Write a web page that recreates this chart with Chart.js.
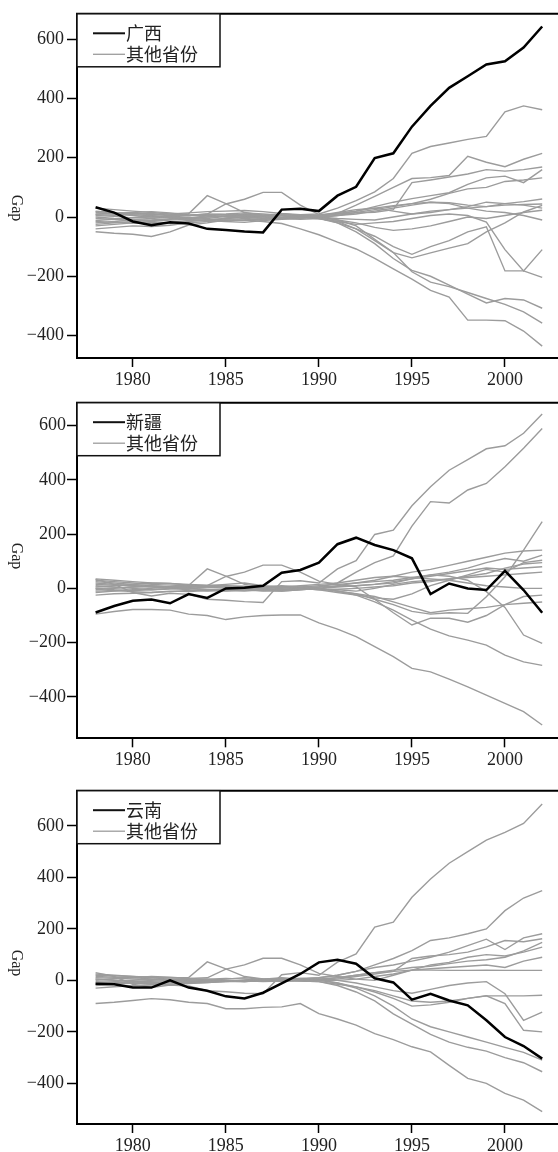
<!DOCTYPE html>
<html><head><meta charset="utf-8">
<script src="https://cdn.jsdelivr.net/npm/chart.js@4/dist/chart.umd.min.js"></script>
<style>
html,body{margin:0;padding:0;background:#fff;width:558px;height:1152px;overflow:hidden}
.p{position:absolute;left:0;width:558px}
</style></head><body>
<div class="p" style="top:0;height:400px"><canvas id="c1"></canvas></div>
<div class="p" style="top:385px;height:395px"><canvas id="c2"></canvas></div>
<div class="p" style="top:765px;height:387px"><canvas id="c3"></canvas></div>
<script>
const years = [1978,1979,1980,1981,1982,1983,1984,1985,1986,1987,1988,1989,1990,1991,1992,1993,1994,1995,1996,1997,1998,1999,2000,2001,2002];
const xTicks = [1980,1985,1990,1995,2000];
const yTicks = [-400,-200,0,200,400,600];
const otherLabel = '其他省份';

const guangxi = [33,15,-15,-28,-18,-22,-40,-44,-49,-52,25,28,20,72,102,199,215,305,375,436,475,515,526,572,643];
const xinjiang = [-89,-65,-46,-41,-55,-21,-35,0,2,10,58,68,95,163,187,160,141,111,-21,18,0,-6,65,-6,-90];
const yunnan = [-13,-15,-28,-28,0,-28,-40,-62,-70,-48,-12,25,70,80,65,8,-8,-75,-52,-78,-97,-155,-220,-255,-304];

const othersPanel1 = [
 [5,2,-3,0,6,4,8,10,14,10,6,8,10,30,55,85,130,215,238,250,262,272,355,375,362],
 [-12,-8,-2,4,0,-4,4,8,6,4,0,4,0,12,40,70,100,130,133,140,205,185,170,195,215],
 [18,14,8,4,0,-6,0,4,10,6,10,6,6,10,14,16,25,116,125,135,145,160,155,160,169],
 [-20,-15,-10,-12,-8,-2,-5,2,0,-4,-2,0,2,10,20,35,50,62,72,82,110,132,138,116,160],
 [8,6,10,12,5,11,72,45,15,6,4,0,-2,5,15,25,35,45,60,80,95,100,120,125,132],
 [30,25,20,15,10,5,10,44,60,83,83,40,8,12,20,30,38,45,50,48,40,35,45,52,61],
 [-5,-8,-12,-10,-6,-2,0,3,5,2,-4,-2,0,-5,-8,-10,0,10,20,25,30,35,40,42,44],
 [10,12,15,18,14,8,5,0,-5,-8,-6,-2,0,-10,-20,-35,-45,-40,-30,-15,0,-5,5,15,23],
 [-30,-25,-20,-22,-18,-12,-10,-5,0,5,8,4,0,5,10,20,30,40,50,45,30,20,15,5,-10],
 [0,-5,-8,-5,0,5,10,8,4,0,-4,-8,-5,-15,-25,-20,-15,-5,5,10,5,-17,-110,-182,-110],
 [15,10,5,0,-2,-5,-8,-10,-12,-8,-4,0,-2,-20,-40,-65,-100,-126,-100,-80,-50,-33,-182,-182,-204],
 [-25,-20,-15,-18,-22,-15,-10,-5,0,-3,-5,-3,-5,-20,-50,-90,-140,-180,-200,-230,-260,-290,-275,-280,-308],
 [-40,-35,-30,-32,-28,-20,-15,-12,-10,-6,-2,0,0,-10,-30,-75,-120,-185,-220,-235,-255,-275,-295,-320,-358],
 [-50,-55,-58,-66,-50,-27,-20,-10,-10,-15,-22,-40,-60,-85,-108,-140,-175,-210,-248,-270,-348,-348,-350,-385,-436],
 [20,15,12,8,10,14,18,20,22,18,12,8,-5,-15,-40,-80,-120,-138,-121,-105,-90,-50,-20,17,39],
 [-15,-18,-20,-15,-10,-8,-12,-15,-18,-12,-8,-5,5,15,25,30,20,10,15,25,35,50,45,40,30]
];
const othersPanel2 = [
 [33,15,-15,-28,-18,-22,-40,-44,-49,-52,25,28,20,72,102,199,215,305,375,436,475,515,526,572,643],
 [0,-5,-8,-5,-2,0,5,8,5,0,-5,0,5,20,60,95,120,230,320,315,363,387,449,517,590],
 [-95,-85,-78,-78,-80,-95,-100,-115,-105,-100,-98,-98,-127,-150,-178,-215,-252,-295,-308,-335,-363,-394,-424,-455,-504],
 [10,5,0,-5,0,5,8,5,0,-5,-10,-5,0,-10,-20,-40,-60,-85,-95,-90,-92,-31,43,141,246],
 [-5,0,5,8,5,0,-3,-5,0,5,10,5,10,15,20,25,30,40,50,45,30,-12,-70,-172,-203],
 [20,15,10,5,0,-5,-10,-8,-5,0,5,3,0,-10,-25,-50,-80,-117,-150,-175,-191,-209,-246,-271,-284],
 [-15,-10,-5,0,5,8,5,0,-5,-8,-10,-5,0,10,20,30,45,60,70,85,100,115,130,138,141],
 [30,25,20,15,12,10,8,5,0,-3,-5,0,5,8,10,15,20,35,50,60,75,95,110,100,123],
 [5,10,15,20,18,12,10,15,20,10,5,0,-5,-15,-25,-35,-40,-20,10,30,50,70,60,95,104],
 [-25,-20,-18,-15,-10,-12,-8,-5,-5,-10,-8,-3,0,5,10,15,25,35,45,55,65,75,70,75,80],
 [0,2,5,8,6,11,72,45,15,6,4,0,-2,-5,-10,0,15,25,30,35,40,45,50,55,60],
 [15,12,10,8,5,3,10,44,60,86,86,60,27,15,5,-40,-90,-135,-110,-110,-125,-100,-60,-30,-25],
 [-10,-8,-12,-15,-12,-8,-5,-8,-10,-5,0,5,0,-10,-20,-30,-50,-70,-90,-80,-75,-70,-60,-55,-50],
 [25,20,15,10,5,0,-5,-10,-5,0,5,10,15,20,30,40,45,40,35,30,20,10,5,0,0],
 [35,30,25,20,18,15,12,10,8,5,2,0,-5,-3,0,5,10,20,25,35,45,55,75,90,95]
];
const othersPanel3 = [
 [30,15,-15,-28,-18,-22,-40,-44,-50,-52,22,30,20,71,103,207,226,323,394,455,500,545,575,610,685],
 [5,0,-5,0,5,8,5,0,-5,0,5,8,10,20,35,60,85,116,155,165,181,200,271,320,349],
 [-90,-85,-78,-71,-75,-85,-90,-110,-110,-105,-103,-90,-129,-150,-174,-207,-230,-258,-278,-330,-381,-400,-439,-465,-510],
 [-10,-5,0,5,0,-5,0,5,10,5,0,5,10,20,35,50,60,75,90,110,135,160,120,165,181],
 [10,8,5,2,0,-3,-5,-2,0,5,10,5,0,5,15,25,35,85,95,100,110,130,155,150,162],
 [-20,-15,-10,-8,-5,0,5,8,5,0,-5,0,5,10,20,30,40,50,55,65,75,80,90,115,148],
 [20,18,15,12,10,11,72,45,15,6,4,0,-2,0,5,15,25,40,60,70,90,100,95,110,129],
 [0,5,10,15,12,8,10,44,60,86,86,60,27,15,5,0,20,40,45,50,55,60,50,75,90],
 [-15,-12,-10,-15,-18,-12,-8,-5,0,5,8,6,5,10,20,30,35,40,40,39,39,40,39,39,39],
 [5,0,-3,-5,-8,-6,-3,0,-2,-5,-3,0,2,-10,-25,-45,-70,-100,-95,-85,-70,-60,-60,-60,-58],
 [25,20,15,10,5,3,0,-3,-5,0,5,8,5,0,-10,-25,-40,-50,-35,-20,-10,-5,-52,-155,-123],
 [-30,-25,-20,-18,-15,-10,-8,-5,-5,-2,0,-3,-5,-15,-25,-40,-60,-80,-85,-80,-70,-60,-90,-194,-200],
 [-5,-8,-10,-12,-10,-8,-5,-3,0,3,5,2,0,-10,-30,-60,-100,-150,-180,-200,-220,-240,-260,-280,-310],
 [15,12,10,6,4,2,0,-2,-4,-2,0,-3,-5,-20,-45,-80,-130,-170,-210,-240,-260,-275,-300,-320,-355]
];

const panels = [
 {id:'c1', name:'广西', main:guangxi, others:othersPanel1, yMin:-476, yMax:686, padTop:7, xAxisH:42, gapY:208, tickPad:3},
 {id:'c2', name:'新疆', main:xinjiang, others:othersPanel2, yMin:-553, yMax:685, padTop:17.7, xAxisH:41.7, gapY:171, tickPad:1},
 {id:'c3', name:'云南', main:yunnan, others:othersPanel3, yMin:-558, yMax:737, padTop:25.7, xAxisH:28, gapY:198, tickPad:3}
];

function pts(arr){ return years.map((y,i)=>({x:y, y:arr[i]})); }

const serif = 'Liberation Serif, Times New Roman, serif';
const cjk = '"Noto Sans CJK SC", sans-serif';
const grayCol = '#9c9c9c';

panels.forEach(p => {
  const datasets = [{label:p.name, data:pts(p.main), borderColor:'#000', borderWidth:2.5, pointRadius:0, order:0, tension:0}];
  p.others.forEach(o => datasets.push({label:otherLabel, data:pts(o), borderColor:grayCol, borderWidth:1.4, pointRadius:0, order:1, tension:0}));
  const deco = {
    id:'deco',
    afterDraw(chart){
      const ctx = chart.ctx, a = chart.chartArea;
      ctx.save();
      ctx.strokeStyle = '#000'; ctx.lineWidth = 2;
      ctx.beginPath(); ctx.moveTo(a.left-1, a.top); ctx.lineTo(chart.width, a.top); ctx.stroke();
      const bx = a.left, by = a.top, bw = 143, bh = 53;
      ctx.fillStyle = '#fff'; ctx.fillRect(bx, by, bw, bh);
      ctx.lineWidth = 1.5; ctx.strokeStyle = '#111';
      ctx.strokeRect(bx, by, bw, bh);
      ctx.beginPath(); ctx.strokeStyle = '#111'; ctx.lineWidth = 2;
      ctx.moveTo(bx+16, by+19.5); ctx.lineTo(bx+48, by+19.5); ctx.stroke();
      ctx.beginPath(); ctx.strokeStyle = grayCol; ctx.lineWidth = 1.3;
      ctx.moveTo(bx+16, by+40.5); ctx.lineTo(bx+48, by+40.5); ctx.stroke();
      ctx.fillStyle = '#222'; ctx.font = '18px ' + cjk; ctx.textBaseline = 'middle'; ctx.textAlign = 'left';
      ctx.fillText(p.name, bx+49, by+19);
      ctx.fillText(otherLabel, bx+49, by+40);
      ctx.translate(16, p.gapY); ctx.rotate(Math.PI/2);
      ctx.font = '16px ' + serif; ctx.textAlign = 'center'; ctx.textBaseline = 'middle';
      ctx.fillText('Gap', 0, 0);
      ctx.restore();
    }
  };
  new Chart(document.getElementById(p.id), {
    type:'line',
    data:{datasets},
    options:{
      responsive:true, maintainAspectRatio:false, animation:false, devicePixelRatio:1,
      layout:{padding:{top:p.padTop, left:0, right:0, bottom:0}},
      plugins:{legend:{display:false}, tooltip:{enabled:false}},
      scales:{
        x:{type:'linear', min:1977, max:2002.85,
           afterBuildTicks:s=>{s.ticks = xTicks.map(v=>({value:v}));},
           afterFit:s=>{s.height = p.xAxisH;},
           grid:{drawOnChartArea:false, drawTicks:true, tickLength:9, tickColor:'#000', tickWidth:1.5},
           border:{display:true, color:'#000', width:2},
           ticks:{font:{family:serif, size:18}, color:'#222', padding:2, maxRotation:0, autoSkip:false, callback:v=>String(v)}},
        y:{type:'linear', min:p.yMin, max:p.yMax,
           afterBuildTicks:s=>{s.ticks = yTicks.map(v=>({value:v}));},
           afterFit:s=>{s.width = 77;},
           grid:{drawOnChartArea:false, drawTicks:true, tickLength:10, tickColor:'#000', tickWidth:1.5},
           border:{display:true, color:'#000', width:2},
           ticks:{font:{family:serif, size:18}, color:'#222', padding:p.tickPad, autoSkip:false, callback:v=> v<0 ? '\u2212'+Math.abs(v) : String(v)}}
      }
    },
    plugins:[deco]
  });
});
</script>
</body></html>
